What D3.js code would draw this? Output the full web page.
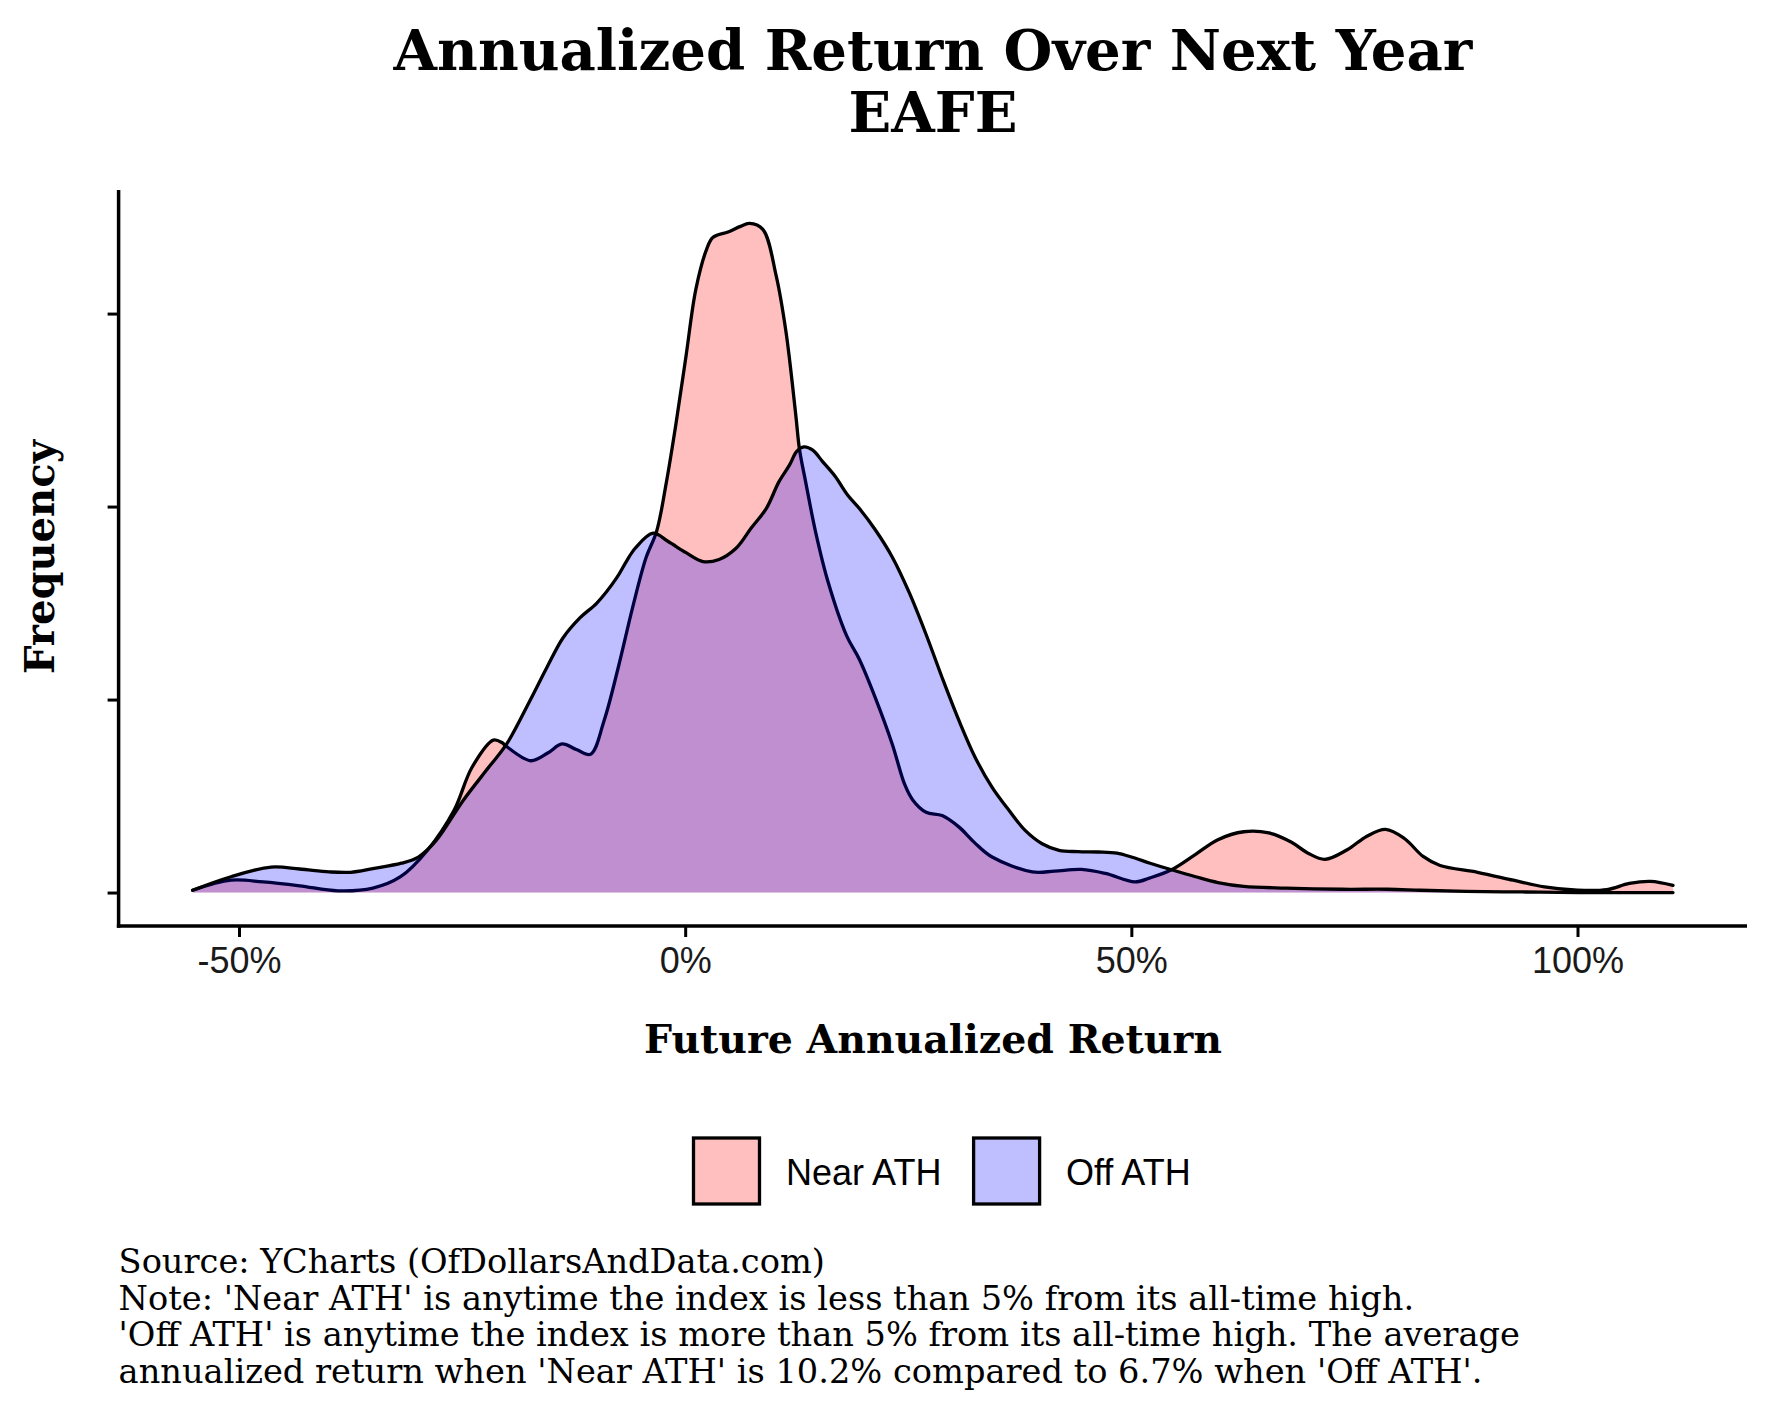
<!DOCTYPE html>
<html>
<head>
<meta charset="utf-8">
<script src="https://cdn.jsdelivr.net/npm/d3@7"></script>
<style>
  html, body { margin: 0; padding: 0; background: #fff; }
  svg { display: block; }
</style>
</head>
<body>
<svg id="chart" width="1771" height="1417"></svg>
<script>
// ---------------- DATA ----------------
const seriesNames = ["Near ATH", "Off ATH"];
const seriesColors = ["red", "blue"];

// Near ATH: future 1-year return (%) and estimated density
const nearReturns = [-55.2, -50.9, -47.3, -43.2, -38.9, -35.0, -31.9, -28.9, -25.9, -23.9, -21.5, -20.5, -20.1, -17.3, -15.4, -13.8, -12.2, -10.6, -9.1, -7.5, -5.9, -4.4, -3.2, -2.1, -1.0, 0.1, 1.2, 2.4, 3.1, 4.8, 6.2, 7.2, 8.7, 10.2, 11.3, 12.4, 12.8, 13.5, 14.6, 16.0, 18.1, 19.5, 21.3, 23.2, 24.6, 25.5, 27.0, 28.8, 30.7, 32.4, 34.4, 38.9, 41.4, 44.4, 47.1, 50.4, 52.1, 54.5, 57.2, 59.7, 62.6, 65.4, 67.9, 69.8, 71.7, 74.2, 76.4, 78.5, 80.6, 82.7, 84.6, 88.8, 92.8, 96.3, 100.0, 103.3, 105.8, 108.2, 110.7];
const nearDensity = [0.012, 0.064, 0.055, 0.035, 0.009, 0.023, 0.082, 0.218, 0.426, 0.648, 0.790, 0.776, 0.760, 0.683, 0.723, 0.770, 0.741, 0.717, 0.889, 1.166, 1.475, 1.733, 1.872, 2.128, 2.439, 2.782, 3.127, 3.333, 3.394, 3.423, 3.452, 3.467, 3.436, 3.195, 2.904, 2.472, 2.300, 2.128, 1.872, 1.612, 1.330, 1.210, 1.010, 0.770, 0.560, 0.480, 0.416, 0.399, 0.339, 0.260, 0.184, 0.107, 0.111, 0.120, 0.099, 0.055, 0.076, 0.118, 0.198, 0.274, 0.315, 0.309, 0.262, 0.204, 0.172, 0.222, 0.292, 0.327, 0.280, 0.187, 0.140, 0.105, 0.064, 0.029, 0.012, 0.015, 0.047, 0.058, 0.037];

// Off ATH: future 1-year return (%) and estimated density
const offReturns = [-55.2, -50.9, -46.4, -43.2, -39.9, -37.5, -35.0, -31.8, -29.9, -27.9, -24.9, -22.0, -20.0, -17.4, -15.5, -13.7, -11.8, -9.9, -7.7, -6.6, -5.6, -3.6, -1.9, 0.1, 2.0, 3.8, 5.7, 7.4, 9.1, 10.5, 11.7, 12.5, 13.3, 14.3, 15.4, 16.8, 18.2, 19.5, 21.3, 23.2, 25.1, 27.0, 28.8, 30.7, 32.5, 34.4, 36.3, 38.1, 40.0, 41.9, 44.0, 46.3, 48.4, 50.0, 52.1, 54.5, 57.2, 59.7, 62.6, 67.3, 73.6, 78.7, 82.4, 87.5, 93.8, 100.1, 110.7];
const offDensity = [0.012, 0.082, 0.132, 0.122, 0.107, 0.105, 0.124, 0.152, 0.184, 0.270, 0.476, 0.650, 0.770, 0.994, 1.166, 1.319, 1.423, 1.500, 1.629, 1.715, 1.784, 1.862, 1.819, 1.761, 1.715, 1.726, 1.784, 1.889, 1.991, 2.128, 2.216, 2.286, 2.309, 2.292, 2.233, 2.157, 2.060, 1.991, 1.880, 1.739, 1.555, 1.337, 1.113, 0.889, 0.700, 0.545, 0.425, 0.322, 0.253, 0.219, 0.212, 0.210, 0.204, 0.184, 0.152, 0.118, 0.082, 0.052, 0.032, 0.023, 0.017, 0.017, 0.012, 0.006, 0.003, 0.0, 0.0];

const xTickValues = [-50, 0, 50, 100];
const xTickLabels = ["-50%", "0%", "50%", "100%"];
const yTickValues = [0, 1, 2, 3];

const titleLines = ["Annualized Return Over Next Year", "EAFE"];
const xAxisTitle = "Future Annualized Return";
const yAxisTitle = "Frequency";
const captionLines = [
  "Source: YCharts (OfDollarsAndData.com)",
  "Note: 'Near ATH' is anytime the index is less than 5% from its all-time high.",
  "'Off ATH' is anytime the index is more than 5% from its all-time high. The average",
  "annualized return when 'Near ATH' is 10.2% compared to 6.7% when 'Off ATH'."
];

// ---------------- LAYOUT ----------------
const svg = d3.select("#chart");
const panel = { left: 118.6, right: 1747, top: 190, bottom: 926 };
const serif = "'DejaVu Serif', 'Liberation Serif', serif";
const sans = "'Liberation Sans', Arial, sans-serif";

const series = [
  { name: seriesNames[0], color: seriesColors[0], pts: nearReturns.map((r, i) => [r, nearDensity[i]]) },
  { name: seriesNames[1], color: seriesColors[1], pts: offReturns.map((r, i) => [r, offDensity[i]]) }
];

const allX = nearReturns.concat(offReturns);
const xMin = d3.min(allX), xMax = d3.max(allX);
const xPad = (xMax - xMin) * 0.05;
const x = d3.scaleLinear().domain([xMin - xPad, xMax + xPad]).range([panel.left, panel.right]);

const yMaxData = d3.max(nearDensity.concat(offDensity));
const yPad = yMaxData * 0.05;
const y = d3.scaleLinear().domain([-yPad, yMaxData + yPad]).range([panel.bottom, panel.top]);

// ---------------- MARKS ----------------
const curve = d3.curveCatmullRom.alpha(0.5);
const area = d3.area().x(d => x(d[0])).y0(y(0)).y1(d => y(d[1])).curve(curve);
const line = d3.line().x(d => x(d[0])).y(d => y(d[1])).curve(curve);

const marks = svg.append("g");
series.forEach(s => {
  marks.append("path").datum(s.pts).attr("d", area)
    .attr("fill", s.color).attr("fill-opacity", 0.25).attr("stroke", "none");
  marks.append("path").datum(s.pts).attr("d", line)
    .attr("fill", "none").attr("stroke", "#000").attr("stroke-width", 3.3)
    .attr("stroke-linejoin", "round").attr("stroke-linecap", "round");
});

// ---------------- AXES ----------------
const xAxis = d3.axisBottom(x).tickValues(xTickValues).tickFormat((d, i) => xTickLabels[i]).tickSizeInner(11).tickSizeOuter(0).tickPadding(10);
const gx = svg.append("g").attr("transform", `translate(0,${panel.bottom})`).call(xAxis);
gx.select(".domain").attr("stroke", "#000").attr("stroke-width", 3.5).attr("d", `M${panel.left - 1.75},0H${panel.right}`);
gx.selectAll(".tick line").attr("stroke", "#000").attr("stroke-width", 3);
gx.selectAll(".tick text").attr("font-family", sans).attr("font-size", 36).attr("fill", "#1a1a1a");

const yAxis = d3.axisLeft(y).tickValues(yTickValues).tickFormat("").tickSizeInner(11).tickSizeOuter(0);
const gy = svg.append("g").attr("transform", `translate(${panel.left},0)`).call(yAxis);
gy.select(".domain").attr("stroke", "#000").attr("stroke-width", 3.5).attr("d", `M0,${panel.top}V${panel.bottom + 1.75}`);
gy.selectAll(".tick line").attr("stroke", "#000").attr("stroke-width", 3);

// ---------------- TEXT ----------------
function fit(sel, target) {
  const w = sel.node().getComputedTextLength();
  const fs = parseFloat(sel.attr("font-size"));
  sel.attr("font-size", fs * target / w);
}

const cx = 933;
const t1 = svg.append("text").text(titleLines[0]).attr("x", cx).attr("y", 70)
  .attr("text-anchor", "middle").attr("font-family", serif).attr("font-weight", "bold").attr("font-size", 56);
fit(t1, 1079);
const t2 = svg.append("text").text(titleLines[1]).attr("x", cx).attr("y", 132)
  .attr("text-anchor", "middle").attr("font-family", serif).attr("font-weight", "bold").attr("font-size", t1.attr("font-size"));

const xl = svg.append("text").text(xAxisTitle).attr("x", cx).attr("y", 1053)
  .attr("text-anchor", "middle").attr("font-family", serif).attr("font-weight", "bold").attr("font-size", 38);
fit(xl, 578);

const yl = svg.append("text").text(yAxisTitle)
  .attr("transform", `translate(54,557) rotate(-90)`)
  .attr("text-anchor", "middle").attr("font-family", serif).attr("font-weight", "bold").attr("font-size", 38);
fit(yl, 234);

// Legend
const legend = svg.append("g");
const legendItems = [
  { box: 693.5, label: 786 },
  { box: 973.6, label: 1066 }
];
series.forEach((s, i) => {
  legend.append("rect").attr("x", legendItems[i].box).attr("y", 1138).attr("width", 66).attr("height", 66)
    .attr("fill", s.color).attr("fill-opacity", 0.25).attr("stroke", "#000").attr("stroke-width", 3.3);
  legend.append("text").text(s.name).attr("x", legendItems[i].label).attr("y", 1185)
    .attr("font-family", sans).attr("font-size", 36).attr("fill", "#000");
});

// Caption
const capY = [1273, 1310, 1346, 1382.5];
const caps = captionLines.map((c, i) => svg.append("text").text(c).attr("x", 118.6).attr("y", capY[i])
  .attr("font-family", serif).attr("font-size", 30).attr("fill", "#000"));
fit(caps[2], 1402);
caps.forEach(c => c.attr("font-size", caps[2].attr("font-size")));
</script>
</body>
</html>
